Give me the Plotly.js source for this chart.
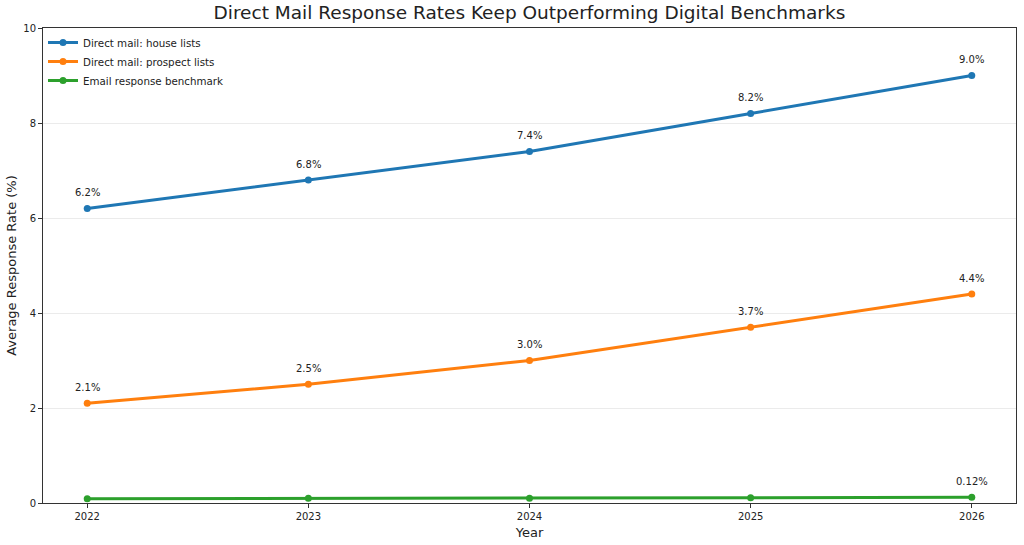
<!DOCTYPE html>
<html><head><meta charset="utf-8">
<script src="https://cdn.plot.ly/plotly-3.0.1.min.js"></script>
<style>html,body{margin:0;padding:0;background:#fff}#c{width:1024px;height:545px}</style>
</head><body><div id="c"></div>
<script>
const years = [2022, 2023, 2024, 2025, 2026];
const houseLists = [6.2, 6.8, 7.4, 8.2, 9.0];
const prospectLists = [2.1, 2.5, 3.0, 3.7, 4.4];
const emailBenchmark = [0.09, 0.10, 0.10, 0.11, 0.12];
const houseLabels = ['6.2%', '6.8%', '7.4%', '8.2%', '9.0%'];
const prospectLabels = ['2.1%', '2.5%', '3.0%', '3.7%', '4.4%'];
const emailLabels = ['', '', '', '', '0.12%'];
const seriesNames = ['Direct mail: house lists', 'Direct mail: prospect lists', 'Email response benchmark'];
const colors = ['#1f77b4', '#ff7f0e', '#2ca02c'];

const font = "DejaVu Sans, sans-serif";
const allY = [houseLists, prospectLists, emailBenchmark];
const allL = [houseLabels, prospectLabels, emailLabels];
const traces = allY.map((y, i) => ({
  x: years, y: y, name: seriesNames[i], type: 'scatter', mode: 'lines+markers',
  line: {color: colors[i], width: 3}, marker: {color: colors[i], size: 7},
  hoverinfo: 'skip'
}));
const annotations = [];
allY.forEach((y, i) => {
  y.forEach((v, j) => {
    if (allL[i][j]) annotations.push({
      x: years[j], y: v, text: allL[i][j], showarrow: false, yshift: 16,
      font: {family: font, size: 10, color: '#222'}, xref: 'x', yref: 'y'
    });
  });
});
const layout = {
  width: 1024, height: 545,
  margin: {l: 43, r: 8, t: 28, b: 42},
  paper_bgcolor: '#fff', plot_bgcolor: '#fff',
  font: {family: font, color: '#222'},
  title: {text: 'Direct Mail Response Rates Keep Outperforming Digital Benchmarks', font: {family: font, size: 18.5, color: '#222'}, x: 0.517, xanchor: 'center', y: 0.988, yanchor: 'top'},
  xaxis: {
    range: [2021.8, 2026.2], tickvals: years, ticktext: years.map(String),
    showgrid: false, zeroline: false, showline: true, linecolor: '#333', linewidth: 1, mirror: true,
    ticks: 'outside', ticklen: 4, tickcolor: '#333', tickfont: {size: 10, family: font, color: '#222'},
    title: {text: 'Year', font: {size: 13, family: font, color: '#222'}, standoff: 6}
  },
  yaxis: {
    range: [0, 10], tickvals: [0, 2, 4, 6, 8, 10],
    showgrid: true, gridcolor: '#ebebeb', gridwidth: 1, zeroline: false,
    showline: true, linecolor: '#333', linewidth: 1, mirror: true,
    ticks: 'outside', ticklen: 4, tickcolor: '#333', tickfont: {size: 10, family: font, color: '#222'},
    title: {text: 'Average Response Rate (%)', font: {size: 13, family: font, color: '#222'}, standoff: 3}
  },
  showlegend: true,
  legend: {x: 0.0, y: 1.0, xanchor: 'left', yanchor: 'top', bgcolor: 'rgba(255,255,255,0.8)', borderwidth: 0, font: {size: 10.3, family: font, color: '#222'}, tracegroupgap: 0, itemwidth: 30},
  annotations: annotations
};
Plotly.newPlot('c', traces, layout, {displayModeBar: false, staticPlot: true});
</script></body></html>
